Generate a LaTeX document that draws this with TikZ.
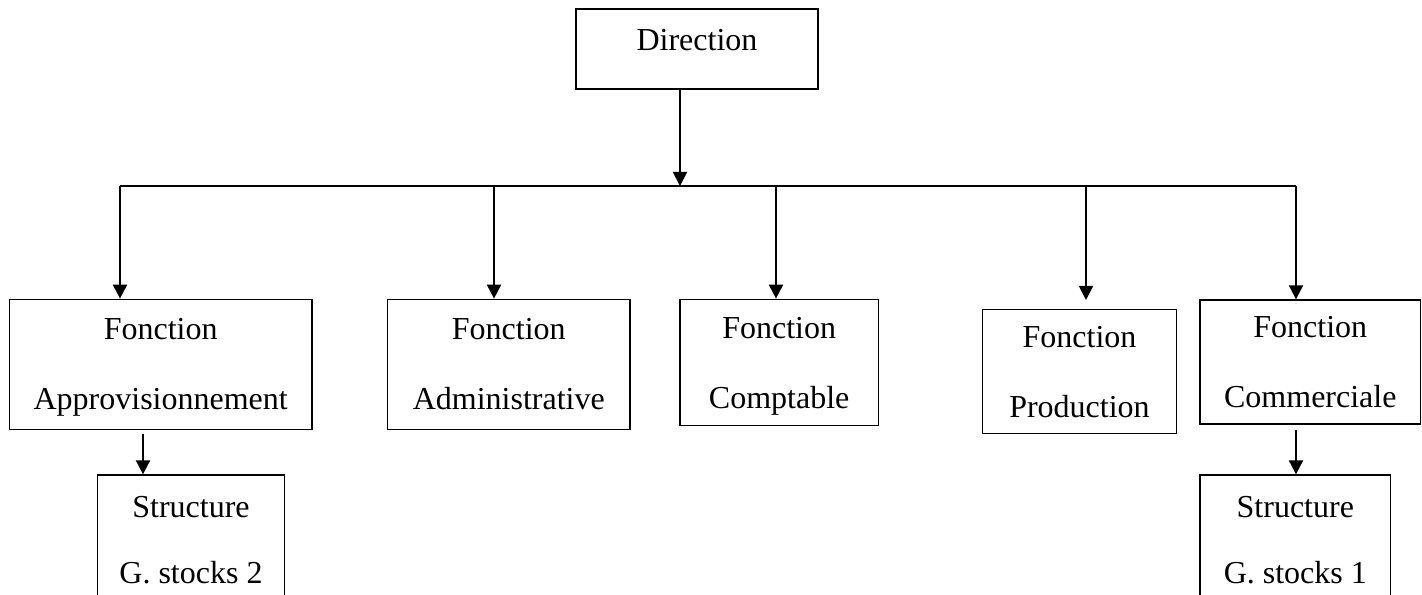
\documentclass[tikz,border=0pt]{standalone}
\usepackage{fontspec}
\setmainfont{Liberation Serif}
\usepackage{tikz}
\usetikzlibrary{arrows.meta}

\tikzset{
  boite/.style={draw, line width=1pt, inner sep=0pt, align=center, text depth=0pt,
    font=\fontsize{24pt}{52.5pt}\selectfont},
  boitest/.style={boite, font=\fontsize{24pt}{49.7pt}\selectfont},
  fleche/.style={line width=1.5pt, -{Triangle[length=10.5pt,width=10.5pt]}},
  trait/.style={line width=1.5pt}
}

\begin{document}
\begin{tikzpicture}[x=0.75pt,y=0.75pt,yscale=-1,xscale=1]
\useasboundingbox (0,0) rectangle (1422,595);

% Direction
\node [boite, minimum width=181.5pt, minimum height=60pt, text height=16pt, text depth=13.5pt] (dir) at (697,49) {Direction};

% Fonctions
\node [boite, minimum width=227pt, minimum height=97.5pt] (appro) at (160.7,364.3) {Fonction\\Approvisionnement};
\node [boite, minimum width=181.7pt, minimum height=97.5pt] (admin) at (508.8,364.3) {Fonction\\Administrative};
\node [boite, minimum width=148.7pt, minimum height=94.8pt] (compt) at (779.2,362.5) {Fonction\\Comptable};
\node [boite, minimum width=145.2pt, minimum height=93.3pt] (prod) at (1079.5,371.5) {Fonction\\Production};
\node [boite, minimum width=165.5pt, minimum height=93pt] (comm) at (1310.3,362) {Fonction\\Commerciale};

% Structures
\node [boitest, minimum width=140pt, minimum height=97.5pt] (stock2) at (191,540) {Structure\\G. stocks 2};
\node [boitest, minimum width=143pt, minimum height=97.5pt] (stock1) at (1295.3,540) {Structure\\G. stocks 1};

% points du bus
\coordinate (hub) at (680,186);
\coordinate (bA) at (120,186);
\coordinate (bB) at (494,186);
\coordinate (bC) at (776,186);
\coordinate (bD) at (1086,186);
\coordinate (bE) at (1296,186);
\coordinate (dEnd) at (1086,300);
\coordinate (kA) at (143,434);
\coordinate (kE) at (1296,430);

%Straight Lines
\draw [fleche] (dir.south -| hub) -- (hub);
\draw [trait] (bA) -- (bE);
\draw [fleche] (bA) -- (bA |- appro.north);
\draw [fleche] (bB) -- (bB |- admin.north);
\draw [fleche] (bC) -- (bC |- compt.north);
\draw [fleche] (bD) -- (dEnd);
\draw [fleche] (bE) -- (bE |- comm.north);
\draw [fleche] (kA) -- (kA |- stock2.north);
\draw [fleche] (kE) -- (kE |- stock1.north);

\end{tikzpicture}
\end{document}
